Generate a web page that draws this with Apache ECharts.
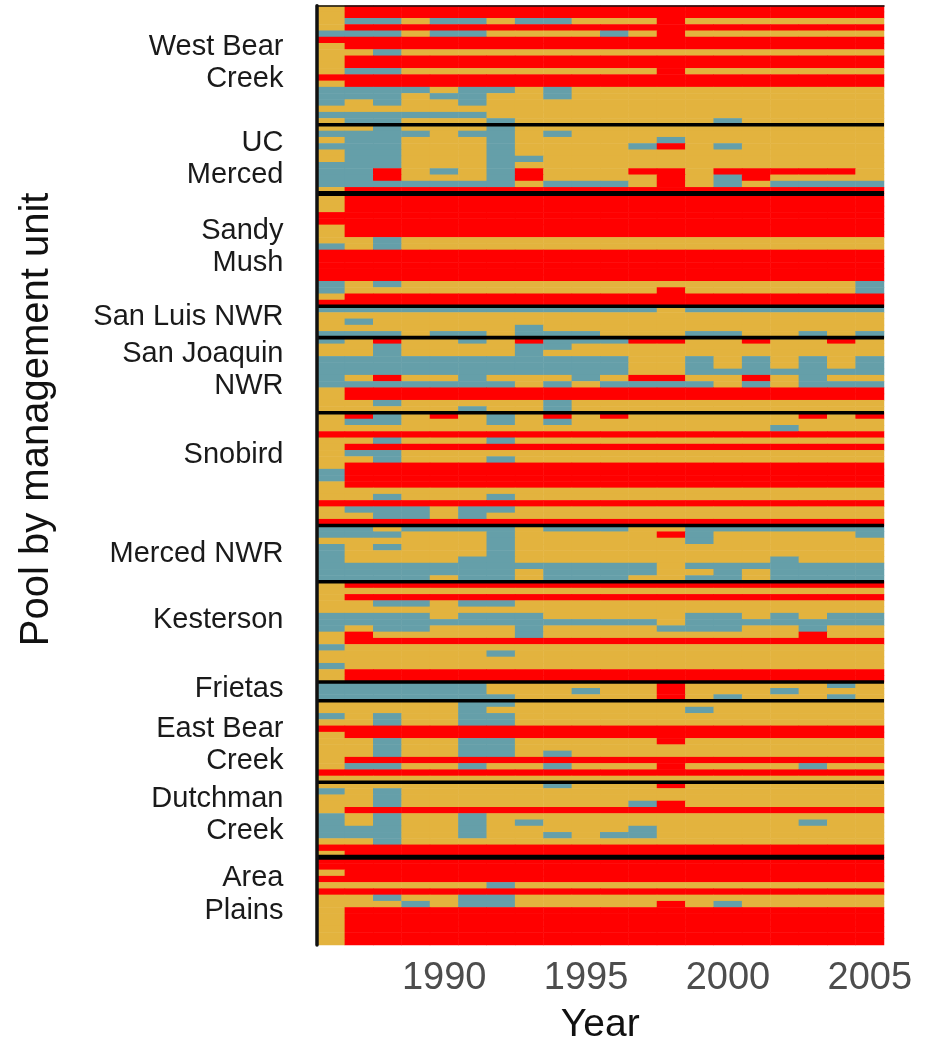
<!DOCTYPE html>
<html>
<head>
<meta charset="utf-8">
<style>html,body{margin:0;padding:0;background:#fff}#c{width:934px;height:1037px}</style>
<script src="https://cdn.jsdelivr.net/npm/echarts@6/dist/echarts.min.js"></script>
</head>
<body>
<div id="c"></div>
<script>
// Y = yellow class, R = red class, T = teal class; one string per pool, one letter per year
const years = ["1986","1987","1988","1989","1990","1991","1992","1993","1994","1995","1996","1997","1998","1999","2000","2001","2002","2003","2004","2005"];
const yearTicks = ["1990","1995","2000","2005"];
const westBear = ["YRRRRRRRRRRRRRRRRRRR","YRRRRRRRRRRRRRRRRRRR","YTTYTTYTTYYYRYYYYYYY","YRRRRRRRRRRRRRRRRRRR","TTTYTTYYYYTYRYYYYYYY","RRRRRRRRRRRRRRRRRRRR","YRRRRRRRRRRRRRRRRRRR","YYTYYYYYYYYYYYYYYYYY","YRRRRRRRRRRRRRRRRRRR","YRRRRRRRRRRRRRRRRRRR","YTTYYYYYYYYYRYYYYYYY","RRRRRRRRRRRRRRRRRRRR","YRRRRRRRRRRRRRRRRRRR","TTTTYTTYTYYYYYYYYYYY","TTTYTTYYTYYYYYYYYYYY","TYTYYTYYYYYYYYYYYYYY","YYYYYYYYYYYYYYYYYYYY","TTTTTTYYYYYYYYYYYYYY","YTTYYYTYYYYYYYTYYYYY"];
const ucMerced = ["YYTYYYTYYYYYYYYYYYYY","TTTTYTTYTYYYYYYYYYYY","YTTYYYTYYYYYTYYYYYYY","TTTYYYTYYYYTRYTYYYYY","YTTYYYTYYYYYYYYYYYYY","YTTYYYTTYYYYYYYYYYYY","TTTYYYTYYYYYYYYYYYYY","TTRYTYTRYYYRRYRRRRRY","TTRYYYTRYYYYRYTRYYYY","TTTTTTTYTTTYRYTYTTTT","YRRRRRRRRRRRRRRRRRRR"];
const sandyMush = ["YRRRRRRRRRRRRRRRRRRR","YRRRRRRRRRRRRRRRRRRR","YRRRRRRRRRRRRRRRRRRR","RRRRRRRRRRRRRRRRRRRR","RRRRRRRRRRRRRRRRRRRR","YRRRRRRRRRRRRRRRRRRR","YRRRRRRRRRRRRRRRRRRR","YYTYYYYYYYYYYYYYYYYY","TYTYYYYYYYYYYYYYYYYY","RRRRRRRRRRRRRRRRRRRR","RRRRRRRRRRRRRRRRRRRR","RRRRRRRRRRRRRRRRRRRR","RRRRRRRRRRRRRRRRRRRR","RRRRRRRRRRRRRRRRRRRR","TYTYYYYYYYYYYYYYYYYT","TYYYYYYYYYYYRYYYYYYT","YRRRRRRRRRRRRRRRRRRR","RRRRRRRRRRRRRRRRRRRR"];
const sanLuis = ["TTTTTTTTTTTTYTTTTTTT","YYYYYYYYYYYYYYYYYYYY","YTYYYYYYYYYYYYYYYYYY","YYYYYYYTYYYYYYYYYYYY","TTTYTTYTTTYYYTTYYTYT"];
const sanJoaquin = ["TYRYYTYRTTTRRYYRYYRY","YYTYYYYTTYYYYYYYYYYY","YYTYYYYTYYYYYYYYYYYY","TTTTTTTTTTTYYTYTYTYT","TTTTTTTTTTTYYTYTYTYT","TTTTTTTTTTTYYTTTTTTT","TYRYYTYYYTYRRYYRYTYY","TTTTTTTYTYTTTTYTYTTT","YRRRRRRRRRRRRRRRRRRR","YRRRRRRRRRRRRRRRRRRR","YYTYYYYYTYYYYYYYYYYY","YYYYYTYYTYYYYYYYYYYY"];
const snobird = ["YRTYRYTYRYRYYYYYYRYR","YTTYYYTYTYYYYYYYYYYY","YYYYYYYYYYYYYYYYTYYY","RRRRRRRRRRRRRRRRRRRR","YYTYYYTYYYYYYYYYYYYY","YRRRRRRRRRRRRRRRRRRR","YTTYYYYYYYYYYYYYYYYY","YYTYYYTYYYYYYYYYYYYY","YRRRRRRRRRRRRRRRRRRR","TRRRRRRRRRRRRRRRRRRR","TRRRRRRRRRRRRRRRRRRR","YRRRRRRRRRRRRRRRRRRR","YYYYYYYYYYYYYYYYYYYY","YYTYYYTYYYYYYYYYYYYY","RRRRRRRRRRRRRRRRRRRR","YTTTYTTYYYYYYYYYYYYY","YYTTYTYYYYYYYYYYYYYY","RRRRRRRRRRRRRRRRRRRR"];
const mercedNwr = ["TTYTTTTYTTTYYTTTTTTT","TTTYYYTYYYYYRTYYYYYT","YYYYYYTYYYYYYTYYYYYY","TYTYYYTYYYYYYYYYYYYY","TYYYYYTYYYYYYYYYYYYY","TYYYYTTYYYYYYYYYTYYY","TTTTTTTTTTTTYTTTTTTT","TTTTTTTYTTTTYYTYTTTT","TTTTYTTYTTTYYTTYTTTT"];
const kesterson = ["YRRRRRRRRRRRRRRRRRRR","YYYYYYYYYYYYYYYYYYYY","YRRRRRRRRRRRRRRRRRRR","YYTTYTTYYYYYYYYYYYYY","YYYYYYYYYYYYYYYYYYYY","TTTTYTTTYYYYYTTYTYTT","TTTTTTTTTTTTYTTTTTTT","TYTTYYYTYYYYTTTYYTYY","YRYYYYYTYYYYYYYYYRYY","YRRRRRRRRRRRRRRRRRRR","TYYYYYYYYYYYYYYYYYYY","YYYYYYTYYYYYYYYYYYYY","YYYYYYYYYYYYYYYYYYYY","TYYYYYYYYYYYYYYYYYYY","YRRRRRRRRRRRRRRRRRRR","YRRRRRRRRRRRRRRRRRRR"];
const frietas = ["TTTTTTYYYYYYRYYYYYTY","TTTTTTYYYTYYRYYYTYYY","TTTTTTTYYYYYRYTYYYTY"];
const eastBear = ["YYYYYTTYYYYYYYYYYYYY","YYYYYTYYYYYYYTYYYYYY","TYTYYTTYYYYYYYYYYYYY","YYTYYTTYYYYYYYYYYYYY","RRRRRRRRRRRRRRRRRRRR","YRRRRRRRRRRRRRRRRRRR","YYTYYTTYYYYYRYYYYYYY","YYTYYTTYYYYYYYYYYYYY","YYTYYTTYTYYYYYYYYYYY","YRRRRRRRRRRRRRRRRRRR","YTTYYTYYTYYYRYYYYTYY","RRRRRRRRRRRRRRRRRRRR","YYYYYYYYYYYYYYYYYYYY"];
const dutchman = ["YYYYYYYYTYYYRYYYYYYY","TYTYYYYYYYYYYYYYYYYY","YYTYYYYYYYYYYYYYYYYY","YYTYYYYYYYYTRYYYYYYY","YRRRRRRRRRRRRRRRRRRR","TYTYYTYYYYYYYYYYYYYY","TYTYYTYTYYYYYYYYYTYY","TTTYYTYYYYYTYYYYYYYY","TTTYYTYYTYTTYYYYYYYY","YYTYYYYYYYYYYYYYYYYY","RRRRRRRRRRRRRRRRRRRR","YRRRRRRRRRRRRRRRRRRR"];
const areaPlains = ["RRRRRRRRRRRRRRRRRRRR","RRRRRRRRRRRRRRRRRRRR","YRRRRRRRRRRRRRRRRRRR","RRRRRRRRRRRRRRRRRRRR","YYYYYYTYYYYYYYYYYYYY","RRRRRRRRRRRRRRRRRRRR","YYTYYTTYYYYYYYYYYYYY","YYYTYTTYYYYYRYTYYYYY","YRRRRRRRRRRRRRRRRRRR","YRRRRRRRRRRRRRRRRRRR","YRRRRRRRRRRRRRRRRRRR","YRRRRRRRRRRRRRRRRRRR","YRRRRRRRRRRRRRRRRRRR","YRRRRRRRRRRRRRRRRRRR"];
const unitLabels = ["West Bear","Creek","UC","Merced","Sandy","Mush","San Luis NWR","San Joaquin","NWR","Snobird","Merced NWR","Kesterson","Frietas","East Bear","Creek","Dutchman","Creek","Area","Plains"];
const unitLabelRows = [6.6,11.7,21.9,27.0,36.0,41.1,49.7,55.6,60.7,71.7,87.5,98.1,109.1,115.5,120.6,126.7,131.8,139.3,144.5];

const units = [westBear,ucMerced,sandyMush,sanLuis,sanJoaquin,snobird,mercedNwr,kesterson,frietas,eastBear,dutchman,areaPlains];
const thickAfter = [1,10]; // separators drawn heavier in the original

const rows = units.flat();
const nRows = rows.length;
const classOf = {Y:0,T:1,R:2};
const cells = [];
rows.forEach((s,r)=>{ for(let c=0;c<s.length;c++) cells.push([c,r,classOf[s[c]]]); });

let cum = 0;
const separators = [];
units.forEach((u,i)=>{
  cum += u.length;
  if(i < units.length-1){
    separators.push({
      type:'line',xAxisIndex:1,yAxisIndex:1,silent:true,symbol:'none',animation:false,z:5,
      data:[[0,cum],[years.length,cum]],
      lineStyle:{color:'#000',width:thickAfter.includes(i)?5:3.6}
    });
  }
});

const chart = echarts.init(document.getElementById('c'),null,{renderer:'canvas'});
const labelMap = new Map(unitLabelRows.map((v,i)=>[v,unitLabels[i]]));
chart.setOption({
  animation:false,
  backgroundColor:'#fff',
  textStyle:{fontFamily:'"Liberation Sans",Arial,sans-serif'},
  grid:{left:316.5,top:5.7,width:567.5,height:939.3,containLabel:false,outerBoundsMode:'none'},
  visualMap:{show:false,type:'piecewise',seriesIndex:0,dimension:2,
    pieces:[{value:0,color:'#E3B33E'},{value:1,color:'#659FA9'},{value:2,color:'#FF0000'}]},
  xAxis:[
    {type:'category',data:years,position:'bottom',z:6,
     axisLine:{show:true,lineStyle:{color:'#111',width:1.5}},axisTick:{show:false},splitLine:{show:false},
     axisLabel:{interval:(i,v)=>yearTicks.includes(v),color:'#4d4d4d',fontSize:38,margin:15,hideOverlap:false,showMaxLabel:true},
     name:'Year',nameLocation:'middle',nameGap:61,nameTextStyle:{color:'#111',fontSize:39}},
    {type:'value',min:0,max:years.length,show:false}
  ],
  yAxis:[
    {type:'category',data:rows.map((_,i)=>i),inverse:true,show:false},
    {type:'value',min:0,max:nRows,inverse:true,position:'left',z:6,
     splitLine:{show:false},axisTick:{show:false},
     axisLine:{show:true,lineStyle:{color:'#111',width:3.5}},
     axisLabel:{customValues:unitLabelRows,formatter:v=>labelMap.get(v)||'',color:'#1a1a1a',fontSize:29,margin:33},
     name:'Pool by management unit',nameLocation:'middle',nameGap:260,nameRotate:90,
     nameTextStyle:{color:'#111',fontSize:40,padding:[0,0,0,112]}}
  ],
  series:[
    {type:'heatmap',data:cells,xAxisIndex:0,yAxisIndex:0,silent:true,
     itemStyle:{borderWidth:0},progressive:0,emphasis:{disabled:true}},
    ...separators
  ]
});
</script>
</body>
</html>
